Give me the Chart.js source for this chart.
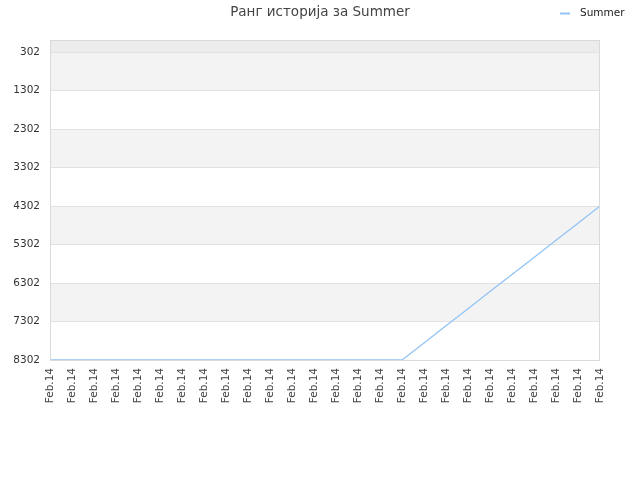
<!DOCTYPE html>
<html>
<head>
<meta charset="utf-8">
<script src="https://cdn.jsdelivr.net/npm/chart.js@4/dist/chart.umd.min.js"></script>
<style>
  html, body { margin: 0; padding: 0; background: #fff; }
  #wrap { width: 640px; height: 480px; }
</style>
</head>
<body>
<div id="wrap"><canvas id="rankChart" width="640" height="480"></canvas></div>
<script>
const chartTitle = 'Ранг историја за Summer';
const seriesName = 'Summer';
const labels = ['Feb.14', 'Feb.14', 'Feb.14', 'Feb.14', 'Feb.14', 'Feb.14', 'Feb.14', 'Feb.14', 'Feb.14',
    'Feb.14', 'Feb.14', 'Feb.14', 'Feb.14', 'Feb.14', 'Feb.14', 'Feb.14', 'Feb.14', 'Feb.14',
    'Feb.14', 'Feb.14', 'Feb.14', 'Feb.14', 'Feb.14', 'Feb.14', 'Feb.14', 'Feb.14'];
const ranks = [8302, 8302, 8302, 8302, 8302, 8302, 8302, 8302, 8302, 8302, 8302, 8302, 8302,
    8302, 8302, 8302, 8302, 7860, 7410, 6970, 6520, 6080, 5640, 5190, 4750, 4302];
const yTicks = [302, 1302, 2302, 3302, 4302, 5302, 6302, 7302, 8302];

const lineColor = '#93c4f5';

// shaded bands + frame, title and legend drawn by hand
const decor = {
    id: 'decor',
    beforeDraw(chart) {
        const c = chart.ctx;
        const a = chart.chartArea;
        const y = chart.scales.y;
        c.save();
        c.fillStyle = '#ffffff';
        c.fillRect(a.left, a.top, a.right - a.left, a.bottom - a.top);
        // strip above the first tick
        c.fillStyle = '#ececec';
        c.fillRect(a.left, a.top, a.right - a.left, y.getPixelForValue(yTicks[0]) - a.top);
        c.fillStyle = '#f3f3f3';
        for (let i = 0; i + 1 < yTicks.length; i += 2) {
            const t = y.getPixelForValue(yTicks[i]);
            const b = y.getPixelForValue(yTicks[i + 1]);
            c.fillRect(a.left, t, a.right - a.left, b - t);
        }
        c.restore();
    },
    afterDraw(chart) {
        const c = chart.ctx;
        const a = chart.chartArea;
        c.save();
        c.strokeStyle = '#dadada';
        c.lineWidth = 1;
        c.strokeRect(a.left + 0.5, a.top + 0.5, a.right - a.left - 1, a.bottom - a.top);
        c.fillStyle = '#444';
        c.font = '13.5px "DejaVu Sans"';
        c.textAlign = 'center';
        c.textBaseline = 'middle';
        c.fillText(chartTitle, 320, 12);
        c.strokeStyle = lineColor;
        c.lineWidth = 2;
        c.beginPath();
        c.moveTo(560, 13.5);
        c.lineTo(570, 13.5);
        c.stroke();
        c.fillStyle = '#222';
        c.font = '10.5px "DejaVu Sans"';
        c.textAlign = 'left';
        c.fillText(seriesName, 580, 13);
        c.restore();
    }
};

new Chart(document.getElementById('rankChart'), {
    type: 'line',
    data: {
        labels: labels,
        datasets: [{
            label: seriesName,
            data: ranks,
            borderColor: lineColor,
            backgroundColor: lineColor,
            borderWidth: 1.3,
            pointRadius: 0,
            tension: 0,
            fill: false
        }]
    },
    options: {
        responsive: false,
        animation: false,
        layout: { padding: { top: 40, right: 40, left: 0, bottom: 0 } },
        plugins: {
            legend: { display: false },
            title: { display: false },
            tooltip: { enabled: false }
        },
        scales: {
            x: {
                type: 'category',
                offset: false,
                grid: { display: false, drawTicks: false },
                border: { display: false },
                ticks: {
                    autoSkip: false,
                    maxRotation: 90,
                    minRotation: 90,
                    padding: 8,
                    color: '#444',
                    font: { family: 'DejaVu Sans', size: 10.5 }
                },
                afterFit(scale) { scale.height = 120; }
            },
            y: {
                reverse: true,
                min: -10,
                max: 8302,
                afterBuildTicks(axis) { axis.ticks = yTicks.map(v => ({ value: v })); },
                grid: { color: '#e2e2e2', drawTicks: false },
                border: { display: false },
                ticks: {
                    padding: 10,
                    color: '#333',
                    font: { family: 'DejaVu Sans', size: 10.5 },
                    callback: v => String(v)
                },
                afterFit(scale) { scale.width = 50; }
            }
        }
    },
    plugins: [decor]
});
</script>
</body>
</html>
